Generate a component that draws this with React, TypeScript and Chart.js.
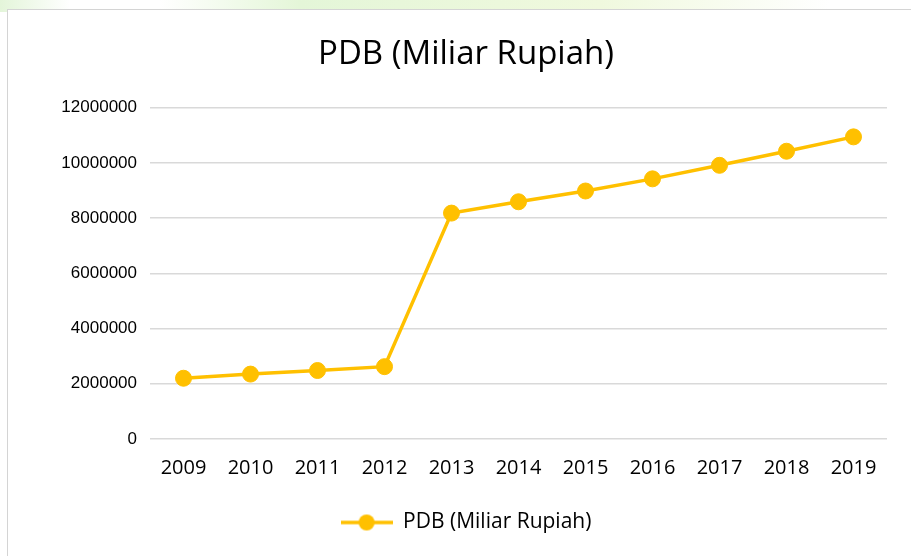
import React, { useEffect, useRef } from "react";
import { Chart, registerables } from "chart.js";

Chart.register(...registerables);

const years = ["2009", "2010", "2011", "2012", "2013", "2014", "2015", "2016", "2017", "2018", "2019"];
const pdbValues = [2200000, 2350000, 2480000, 2620000, 8180000, 8590000, 8980000, 9420000, 9910000, 10420000, 10940000];
const seriesLabel = "PDB (Miliar Rupiah)";
const titleText = "PDB (Miliar Rupiah)";
const yMin = 0;
const yMax = 12000000;
const yStep = 2000000;

const GOLD = "#FFC000";

function makeLegendIcon(): HTMLCanvasElement {
  const c = document.createElement("canvas");
  c.width = 52;
  c.height = 20;
  const ctx = c.getContext("2d")!;
  ctx.strokeStyle = GOLD;
  ctx.lineWidth = 3.5;
  ctx.beginPath();
  ctx.moveTo(0, 10);
  ctx.lineTo(52, 10);
  ctx.stroke();
  ctx.fillStyle = GOLD;
  ctx.beginPath();
  ctx.arc(26, 10, 8, 0, Math.PI * 2);
  ctx.fill();
  return c;
}

export default function App() {
  const ref = useRef<HTMLCanvasElement | null>(null);

  useEffect(() => {
    if (!ref.current) return;
    const icon = makeLegendIcon();
    const chart = new Chart(ref.current, {
      type: "line",
      data: {
        labels: years,
        datasets: [
          {
            label: seriesLabel,
            data: pdbValues,
            borderColor: GOLD,
            backgroundColor: GOLD,
            borderWidth: 3.5,
            pointRadius: 8,
            pointHoverRadius: 8,
            pointBorderWidth: 1,
            pointBorderColor: GOLD,
            pointBackgroundColor: GOLD,
            pointStyle: "circle",
            tension: 0,
          },
        ],
      },
      options: {
        animation: false,
        responsive: false,
        maintainAspectRatio: false,
        layout: { padding: { left: 45, right: 24, top: 0, bottom: 13 } },
        plugins: {
          title: {
            display: true,
            text: titleText,
            color: "#000000",
            font: { family: "'Open Sans'", size: 33, weight: "normal" },
            padding: { top: 35, bottom: 33 },
          },
          legend: {
            display: true,
            position: "bottom",
            labels: {
              usePointStyle: true,
              pointStyle: icon as any,
              pointStyleWidth: 52,
              padding: 15,
              color: "#000000",
              font: { family: "'Open Sans'", size: 21 },
              generateLabels: (ch: any) => [
                {
                  text: seriesLabel,
                  pointStyle: icon,
                  fillStyle: GOLD,
                  strokeStyle: GOLD,
                  lineWidth: 0,
                  hidden: false,
                  datasetIndex: 0,
                  fontColor: "#000000",
                },
              ],
            },
          },
          tooltip: { enabled: false },
        },
        scales: {
          x: {
            offset: true,
            grid: { display: false, drawTicks: false },
            border: { display: false },
            ticks: {
              color: "#000000",
              font: { family: "'Open Sans'", size: 20 },
              padding: 17,
              maxRotation: 0,
            },
          },
          y: {
            min: yMin,
            max: yMax,
            grid: { color: "#d9d9d9", lineWidth: 1.5, drawTicks: false },
            border: { display: false },
            afterFit: (axis: any) => {
              axis.width = 105;
            },
            ticks: {
              stepSize: yStep,
              color: "#000000",
              font: { family: "'Liberation Sans'", size: 17 },
              padding: 13,
              callback: (v: any) => String(v),
            },
          },
        },
      },
    });
    return () => chart.destroy();
  }, []);

  return (
    <div
      style={{
        position: "fixed",
        left: 0,
        top: 0,
        width: 911,
        height: 556,
        overflow: "hidden",
        background: "#ffffff",
      }}
    >
      <div
        style={{
          position: "absolute",
          left: 0,
          top: 0,
          width: 911,
          height: 12,
          background:
            "linear-gradient(90deg, rgba(200,235,180,0.5) 0px, rgba(255,255,255,0) 70px, rgba(255,255,255,0) 160px, rgba(210,240,190,0.6) 300px, rgba(230,245,200,0.6) 600px, rgba(255,255,255,0) 830px)",
        }}
      />
      <div
        style={{
          position: "absolute",
          left: 7,
          top: 9,
          width: 920,
          height: 570,
          border: "1px solid #d4d4d4",
          background: "#ffffff",
          boxSizing: "border-box",
        }}
      />
      <canvas
        ref={ref}
        width={911}
        height={556}
        style={{ position: "absolute", left: 0, top: 0, width: 911, height: 556 }}
      />
    </div>
  );
}
